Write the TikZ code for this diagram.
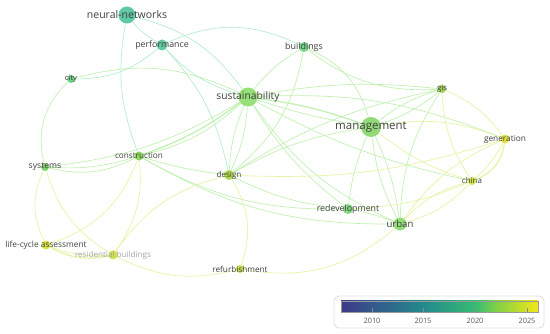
\documentclass[tikz,border=0pt]{standalone}
\usepackage{fontspec}
\setmainfont{Open Sans}
\usepackage{tikz}
\usetikzlibrary{backgrounds}
\definecolor{cNN}{RGB}{77,196,155}
\definecolor{cPerf}{RGB}{82,196,150}
\definecolor{cCity}{RGB}{100,205,120}
\definecolor{cBuild}{RGB}{105,210,125}
\definecolor{cSust}{RGB}{140,220,105}
\definecolor{cMgmt}{RGB}{135,215,105}
\definecolor{cGis}{RGB}{150,205,60}
\definecolor{cGen}{RGB}{225,228,40}
\definecolor{cCons}{RGB}{130,212,75}
\definecolor{cSys}{RGB}{115,205,95}
\definecolor{cDes}{RGB}{165,215,55}
\definecolor{cChina}{RGB}{205,225,55}
\definecolor{cRedev}{RGB}{120,210,115}
\definecolor{cUrban}{RGB}{135,218,105}
\definecolor{cLca}{RGB}{215,225,45}
\definecolor{cRes}{RGB}{205,222,50}
\definecolor{cRef}{RGB}{195,222,55}
\definecolor{lnkG}{RGB}{192,240,175}
\definecolor{lnkT}{RGB}{180,236,205}
\definecolor{lnkY}{RGB}{228,244,160}
\definecolor{vir0}{RGB}{62,57,135}
\definecolor{vir1}{RGB}{52,88,140}
\definecolor{vir2}{RGB}{35,138,141}
\definecolor{vir3}{RGB}{55,188,115}
\definecolor{vir4}{RGB}{130,208,70}
\definecolor{vir5}{RGB}{215,225,35}
\definecolor{vir6}{RGB}{245,230,25}
\pgfdeclarehorizontalshading{viridis}{100bp}{color(0bp)=(vir0); color(25bp)=(vir0);
  color(32.9bp)=(vir1); color(46bp)=(vir2); color(59.2bp)=(vir3);
  color(64.5bp)=(vir4); color(72.4bp)=(vir5); color(75bp)=(vir6); color(100bp)=(vir6)}
\tikzset{
  kw/.style={circle,draw=none,inner sep=0pt,fill opacity=0.9},
  lbl/.style={font=\fontsize{#1}{#1}\selectfont,text=black!75,inner sep=0pt,
    fill opacity=1,text opacity=1},
  lnk/.style={draw=lnkG,line width=0.65pt},
  lnkt/.style={draw=lnkT,line width=0.65pt},
  lnky/.style={draw=lnkY,line width=0.65pt},
  heavy/.style={line width=1.2pt},
  legbox/.style={draw=black!12,line width=0.9pt,rounded corners=5pt,fill=white},
  yrlbl/.style={font=\fontsize{7.4}{7.4}\selectfont,text=black!65,inner sep=0pt},
}

\begin{document}
\begin{tikzpicture}[x=1pt,y=-1pt]
  \useasboundingbox (0,0) rectangle (550,334);

  \node[kw,fill=cNN,minimum size=17pt,label={[lbl=10.5]center:neural-networks}] (nn) at (127,15) {};
  \node[kw,fill=cPerf,minimum size=11pt,label={[lbl=8.8]center:performance}] (perf) at (162,45) {};
  \node[kw,fill=cBuild,minimum size=10pt,label={[lbl=8.9]center:buildings}] (build) at (304,47) {};
  \node[kw,fill=cCity,minimum size=8pt,label={[lbl=7.6]center:city}] (city) at (71,79) {};
  \node[kw,fill=cSust,minimum size=19pt,label={[lbl=10.3]center:sustainability}] (sust) at (248,97) {};
  \node[kw,fill=cGis,minimum size=8pt,label={[lbl=7.8]center:gis}] (gis) at (442,89) {};
  \node[kw,fill=cMgmt,minimum size=20pt,label={[lbl=11.5]center:management}] (mgmt) at (371,127) {};
  \node[kw,fill=cGen,minimum size=9pt,label={[lbl=8.3]center:generation}] (gen) at (505,139) {};
  \node[kw,fill=cCons,minimum size=9pt,label={[lbl=8.2]center:construction}] (cons) at (139,156) {};
  \node[kw,fill=cSys,minimum size=8pt,label={[lbl=8.6]center:systems}] (sys) at (45,167) {};
  \node[kw,fill=cDes,minimum size=10pt,label={[lbl=8.1]center:design}] (des) at (229,175) {};
  \node[kw,fill=cChina,minimum size=8pt,label={[lbl=8]center:china}] (china) at (472,181) {};
  \node[kw,fill=cRedev,minimum size=10pt,label={[lbl=8.8]center:redevelopment}] (redev) at (348,209) {};
  \node[kw,fill=cUrban,minimum size=13pt,label={[lbl=9.6]center:urban}] (urban) at (400,224) {};
  \node[kw,fill=cLca,minimum size=9pt,label={[lbl=8.35]center:life-cycle assessment}] (lca) at (46,245) {};
  \node[kw,fill=cRes,minimum size=9pt,label={[lbl=8.1,text=black!35]center:residential buildings}] (resb) at (113,255) {};
  \node[kw,fill=cRef,minimum size=8pt,label={[lbl=8.2]center:refurbishment}] (refurb) at (240,269) {};

  \begin{scope}[on background layer]
    \fill[white] (0,0) rectangle (550,334);
    \draw[lnkt] (nn) to[bend right=10] (perf);
    \draw[lnkt] (nn) to[bend left=20] (sust);
    \draw[lnkt] (nn) to[bend right=15] (cons);
    \draw[lnkt] (perf) to[bend left=20] (city);
    \draw[lnkt] (perf) to[bend right=15] (sust);
    \draw[lnkt] (perf) to[bend left=15] (des);
    \draw[lnkt] (perf) to[bend left=25] (build);
    \draw[lnk] (city) to[bend left=20] (sust);
    \draw[lnk] (city) to[bend right=30] (sys);
    \draw[lnk] (build) to[bend right=10] (sust);
    \draw[lnk] (build) to[bend left=25] (mgmt);
    \draw[lnk] (build) to[bend right=20] (gis);
    \draw[lnk] (build) to[bend left=20] (des);
    \draw[lnk,heavy] (sust) to[bend left=6] (mgmt);
    \draw[lnk] (sust) to[bend right=4] (mgmt);
    \draw[lnk,heavy] (sust) to[bend left=8] (cons);
    \draw[lnk] (sust) to[bend left=14] (cons);
    \draw[lnk] (sust) to[bend right=10] (des);
    \draw[lnk] (sust) to[bend left=10] (des);
    \draw[lnk] (sust) to[bend left=8] (gis);
    \draw[lnk] (sust) to[bend left=12] (gen);
    \draw[lnk] (sust) to[bend right=8] (china);
    \draw[lnk] (sust) to[bend right=15] (urban);
    \draw[lnk] (sust) to[bend right=10] (redev);
    \draw[lnk] (sys) to[bend right=12] (sust);
    \draw[lnk] (cons) to[bend right=5] (des);
    \draw[lnk] (cons) to[bend right=15] (redev);
    \draw[lnk] (cons) to[bend right=15] (urban);
    \draw[lnky] (lca) to[bend right=25] (cons);
    \draw[lnky] (cons) to[bend left=20] (resb);
    \draw[lnk] (sys) to[bend right=10] (cons);
    \draw[lnk] (sys) to[bend right=20] (cons);
    \draw[lnky] (sys) to[bend right=25] (lca);
    \draw[lnky] (sys) to[bend right=20] (resb);
    \draw[lnky,heavy] (lca) to[bend right=20] (resb);
    \draw[lnky] (lca) to[bend right=12] (resb);
    \draw[lnky] (des) to[bend right=20] (resb);
    \draw[lnky] (resb) to[bend right=20] (refurb);
    \draw[lnky] (des) to[bend left=25] (refurb);
    \draw[lnky] (urban) to[bend left=25] (refurb);
    \draw[lnk] (des) to[bend left=10] (mgmt);
    \draw[lnky] (des) to[bend right=10] (gen);
    \draw[lnk] (des) to[bend right=10] (redev);
    \draw[lnk] (des) to[bend left=10] (gis);
    \draw[lnk] (mgmt) to[bend left=10] (gis);
    \draw[lnk] (mgmt) to[bend right=10] (gis);
    \draw[lnky] (mgmt) to[bend left=15] (gen);
    \draw[lnky] (mgmt) to[bend right=10] (china);
    \draw[lnk] (mgmt) to[bend right=10] (urban);
    \draw[lnk] (mgmt) to[bend left=8] (urban);
    \draw[lnk] (mgmt) to[bend right=8] (redev);
    \draw[lnky] (gis) to[bend left=15] (gen);
    \draw[lnky] (gis) to[bend right=15] (china);
    \draw[lnk] (gis) to[bend right=15] (urban);
    \draw[lnky,heavy] (gen) to[bend left=30] (china);
    \draw[lnky] (gen) to[bend left=10] (china);
    \draw[lnky] (gen) to[bend right=15] (urban);
    \draw[lnky] (china) to[bend left=15] (urban);
    \draw[lnky] (china) to[bend right=15] (urban);
    \draw[lnky] (china) to[bend left=10] (redev);
    \draw[lnk] (redev) to[bend left=5] (urban);
  \end{scope}

  \node[legbox,minimum width=210pt,minimum height=32pt] (legend) at (439,312) {};
  \node[shading=viridis,draw=black!40,line width=0.4pt,minimum width=197pt,minimum height=11pt,
    inner sep=0pt] (bar) at (439.5,306.5) {};
  \foreach \yr/\xx in {2010/372,2015/423,2020/475,2025/527}{
    \draw[black!45,line width=0.5pt] (\xx,308) -- (\xx,312);
    \node[yrlbl] (y\yr) at (\xx,321) {\yr};
  }
\end{tikzpicture}
\end{document}
